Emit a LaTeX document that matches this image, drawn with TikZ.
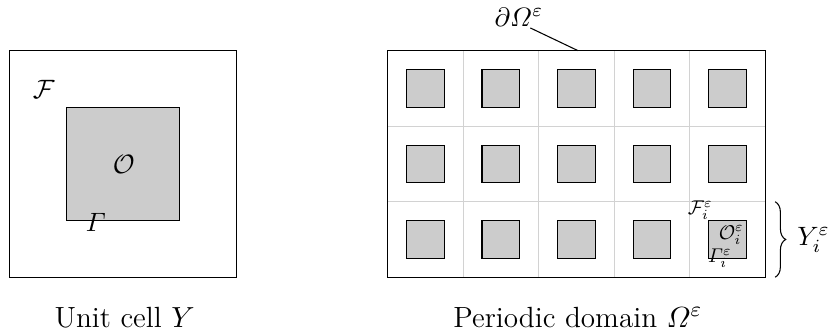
\documentclass[tikz,border=0pt]{standalone}
\usepackage{amsmath}
\usetikzlibrary{decorations.pathreplacing}
\begin{document}
\begin{tikzpicture}[inc/.style={draw, fill=gray!40}, cellline/.style={gray!35, very thin},
  caption/.style={font=\fontsize{11}{13}\selectfont}]
\useasboundingbox (-0.13,-0.77) rectangle (10.91,3.67);
% unit cell
\draw (0,0) rectangle (3,3);
\draw[inc] (0.75,0.75) rectangle (2.25,2.25);
\node (F) at (0.45,2.48) {$\mathcal{F}$};
\node (O) at (1.51,1.5) {$\mathcal{O}$};
\node (G) at (1.14,0.73) {$\varGamma$};
\node[caption] (Y) at (1.52,-0.53) {Unit cell $Y$};
% periodic domain
\draw[cellline] (5,0) grid (10,3);
\foreach \i in {0,...,4}
  \foreach \j in {0,1,2}
    \draw[inc] (5.25+\i,0.25+\j) rectangle +(0.5,0.5);
\draw (5,0) rectangle (10,3);
\node (dO) at (6.74,3.44) {$\partial\varOmega^\varepsilon$};
\coordinate (s) at (6.89,3.30);
\coordinate (e) at (7.52,3);
\draw (s) -- (e);
\node[scale=.75] (Fi) at (9.14,0.89) {$\mathcal{F}_i^\varepsilon$};
\node[scale=.75] (Oi) at (9.55,0.56) {$\mathcal{O}_i^\varepsilon$};
\node[scale=.75] (Gi) at (9.40,0.25) {$\varGamma_i^\varepsilon$};
\coordinate (b1) at (10.13,1);
\coordinate (b0) at (10.13,0);
\draw[decorate, decoration={brace, amplitude=4pt}] (b1) -- (b0);
\node (Yi) at (10.64,0.5) {$Y_i^\varepsilon$};
\node[caption] (P) at (7.52,-0.53) {Periodic domain $\varOmega^\varepsilon$};
\end{tikzpicture}
\end{document}
